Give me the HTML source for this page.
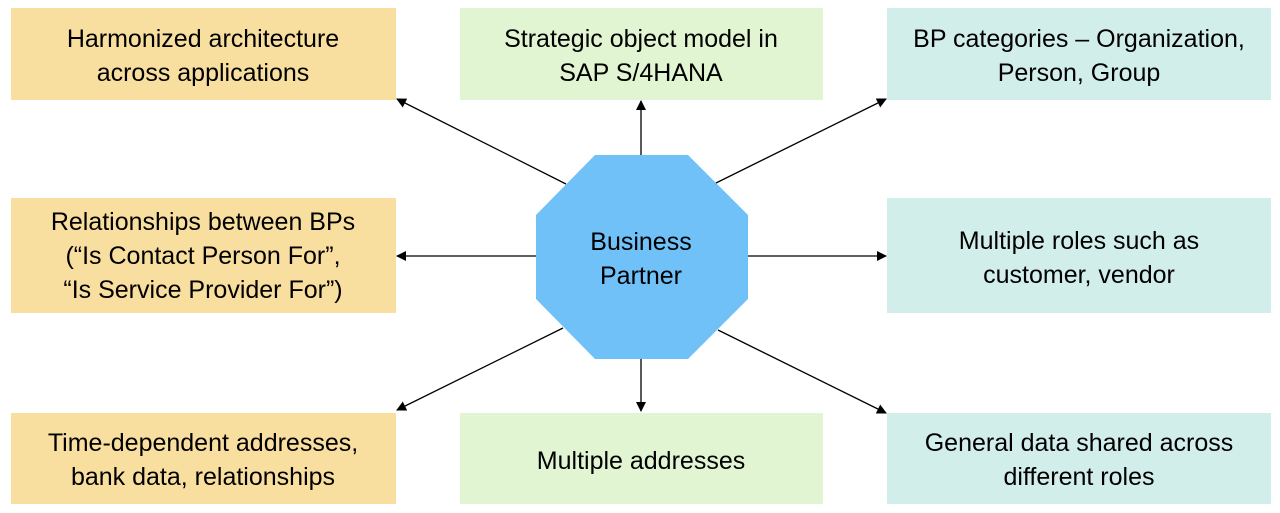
<!DOCTYPE html>
<html><head><meta charset="utf-8"><style>
html,body{margin:0;padding:0;background:#fff;}
svg{display:block;}
text{font-family:"Liberation Sans",Arial,sans-serif;font-size:25px;fill:#000;text-anchor:middle;dominant-baseline:central;}
</style></head><body>
<svg width="1280" height="513" viewBox="0 0 1280 513" xmlns="http://www.w3.org/2000/svg">
<defs><marker id="a" markerWidth="10" markerHeight="10" refX="9" refY="5" orient="auto" markerUnits="userSpaceOnUse"><path d="M0,0 L10,5 L0,10 z" fill="#000"/></marker></defs>
<rect x="11" y="8" width="385" height="92" fill="#F9DF9F"/>
<rect x="460" y="8" width="363" height="92" fill="#E1F5D2"/>
<rect x="887" y="8" width="384" height="92" fill="#D2EEEA"/>
<rect x="11" y="198" width="385" height="115" fill="#F9DF9F"/>
<rect x="887" y="198" width="384" height="115" fill="#D2EEEA"/>
<rect x="11" y="413" width="385" height="91" fill="#F9DF9F"/>
<rect x="460" y="413" width="363" height="91" fill="#E1F5D2"/>
<rect x="887" y="413" width="384" height="91" fill="#D2EEEA"/>
<polygon points="595,155 688,155 748,215 748,299 688,359 595,359 536,299 536,215" fill="#6FC1F8"/>
<g stroke="#000" stroke-width="1.3" marker-end="url(#a)">
<line x1="566" y1="184" x2="397" y2="99"/>
<line x1="641" y1="155" x2="641" y2="101"/>
<line x1="716" y1="183" x2="886" y2="99"/>
<line x1="536" y1="256" x2="397" y2="256"/>
<line x1="748" y1="256" x2="886" y2="256"/>
<line x1="563" y1="328" x2="397" y2="410"/>
<line x1="641" y1="359" x2="641" y2="411"/>
<line x1="718" y1="330" x2="886" y2="413"/>
</g>
<text x="203" y="39">Harmonized architecture</text>
<text x="203" y="73">across applications</text>
<text x="641" y="39">Strategic object model in</text>
<text x="641" y="73">SAP S/4HANA</text>
<text x="1079" y="39">BP categories – Organization,</text>
<text x="1079" y="73">Person, Group</text>
<text x="203" y="222">Relationships between BPs</text>
<text x="203" y="256">(“Is Contact Person For”,</text>
<text x="203" y="290">“Is Service Provider For”)</text>
<text x="641" y="242">Business</text>
<text x="641" y="276">Partner</text>
<text x="1079" y="241">Multiple roles such as</text>
<text x="1079" y="275">customer, vendor</text>
<text x="203" y="443">Time-dependent addresses,</text>
<text x="203" y="477">bank data, relationships</text>
<text x="641" y="461">Multiple addresses</text>
<text x="1079" y="443">General data shared across</text>
<text x="1079" y="477">different roles</text>
</svg>
</body></html>
